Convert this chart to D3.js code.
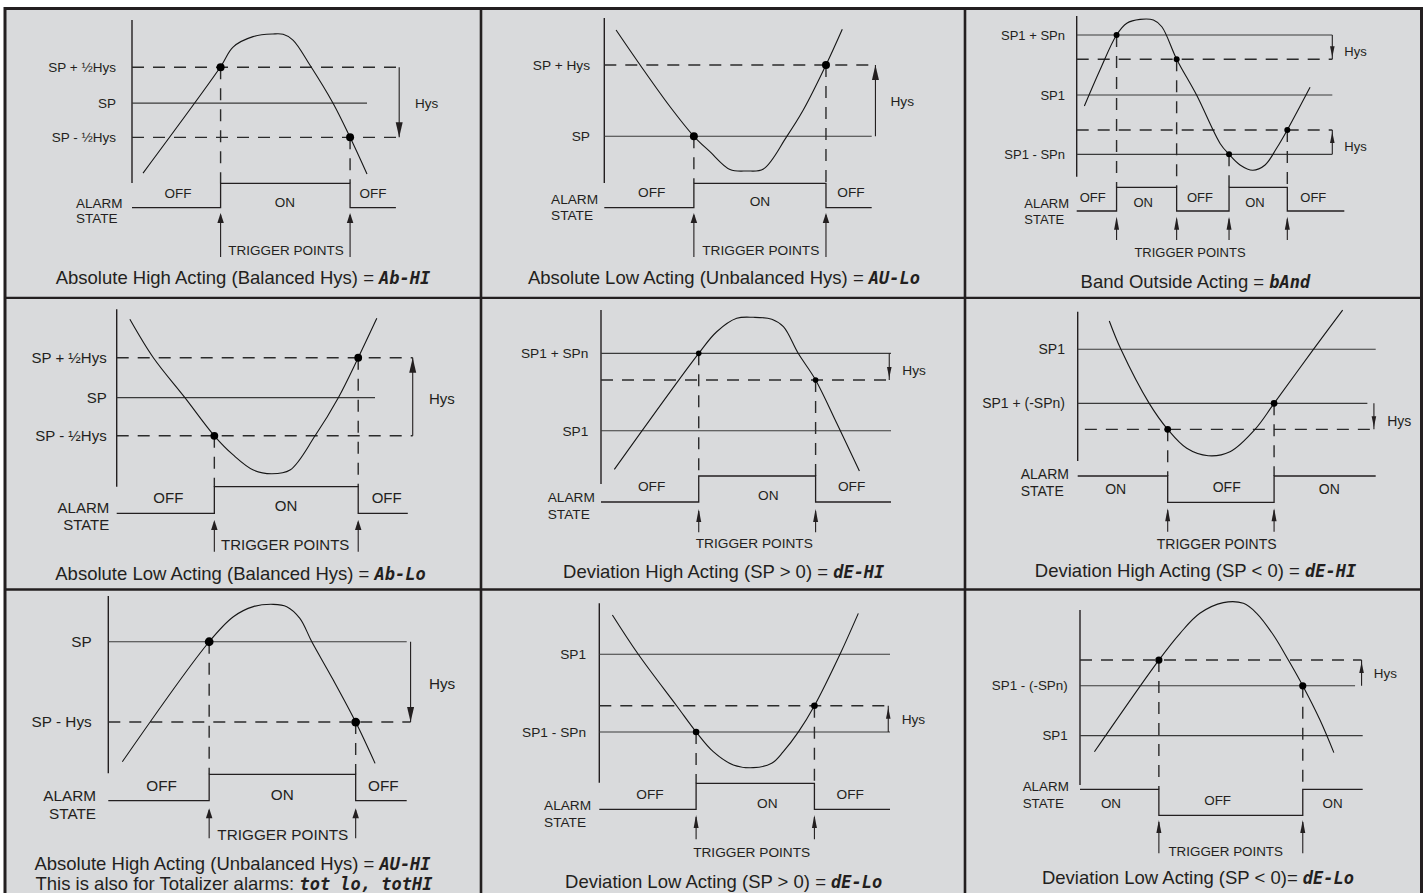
<!DOCTYPE html>
<html>
<head>
<meta charset="utf-8">
<script src="https://cdn.jsdelivr.net/npm/d3@7"></script>
<style>
  body { margin: 0; background: #fff; }
  svg { display: block; }
</style>
</head>
<body>
<script>
const ink = "#231f20";
const panelFill = "#d9dadc";

// ---- data (time runs 0..100 along each trace, process value 0..100 up the axis) ----
const captionText = [
  ["Absolute High Acting (Balanced Hys) = "],
  ["Absolute Low Acting (Unbalanced Hys) = "],
  ["Band Outside Acting = "],
  ["Absolute Low Acting (Balanced Hys) = "],
  ["Deviation High Acting (SP > 0) = "],
  ["Deviation High Acting (SP < 0) = "],
  ["Absolute High Acting (Unbalanced Hys) = ", "This is also for Totalizer alarms: "],
  ["Deviation Low Acting (SP > 0) = "],
  ["Deviation Low Acting (SP < 0)= "]
];
const captionCode = [
  ["Ab-HI"], ["AU-Lo"], ["bAnd"], ["Ab-Lo"], ["dE-HI"], ["dE-HI"],
  ["AU-HI", "tot lo, totHI"], ["dE-Lo"], ["dE-Lo"]
];

const levelNames = [
  ["SP + ½Hys", "SP", "SP - ½Hys"],
  ["SP + Hys", "SP"],
  ["SP1 + SPn", "", "SP1", "", "SP1 - SPn"],
  ["SP + ½Hys", "SP", "SP - ½Hys"],
  ["SP1 + SPn", "", "SP1"],
  ["SP1", "SP1 + (-SPn)", ""],
  ["SP", "SP - Hys"],
  ["SP1", "", "SP1 - SPn"],
  ["", "SP1 - (-SPn)", "SP1"]
];
const levelValues = [
  [71, 49, 28],
  [71.5, 28.3],
  [88.2, 73.1, 50.8, 29.1, 13.9],
  [72.7, 50.2, 28.7],
  [75.1, 59.8, 30.6],
  [74.8, 38.6, 21.2],
  [74.2, 28.9],
  [71.6, 42.9, 28.3],
  [71.4, 56.7, 28.2]
];
const levelDashed = [
  [1, 0, 1], [1, 0], [0, 1, 0, 1, 0], [1, 0, 1], [0, 1, 0],
  [0, 0, 1], [0, 1], [0, 1, 0], [1, 0, 0]
];
// time extent of each threshold line
const levelSpan = [
  [[0, 113.7], [0, 100], [0, 113.7]],
  [[0, 101.4], [0, 100]],
  [[0, 100], [0, 100], [0, 100], [0, 100], [0, 100]],
  [[0, 114.6], [0, 100], [0, 114.6]],
  [[0, 100], [0, 99.4], [0, 100]],
  [[0, 100], [0, 97.2], [2.4, 99.4]],
  [[0, 100], [0, 101.3]],
  [[0, 100], [0, 99.4], [0, 100]],
  [[0, 99.6], [0, 97.3], [0, 100]]
];

// hysteresis band: where the arrow stands and which levels it joins (from -> to)
const hysT = [113.7, 101.4, 100, 114.6, 99.4, 99.4, 101.3, 99.4, 99.6];
const hysPairs = [
  [[71, 28]],
  [[28.3, 71.5]],
  [[88.2, 73.1], [13.9, 29.1]],
  [[28.7, 72.7]],
  [[75.1, 59.8]],
  [[38.6, 21.2]],
  [[74.2, 28.9]],
  [[28.3, 42.9]],
  [[56.7, 71.4]]
];

const curveT = [
  [4.7, 37.7, 43.0, 51.5, 60.0, 64.3, 68.5, 75.7, 85.5, 92.8, 100],
  [4.4, 13.4, 24.6, 33.5, 39.5, 47.0, 53.3, 59.5, 68.2, 74.4, 82.9, 89.0],
  [3.0, 9.1, 15.6, 19.6, 24.8, 30.0, 33.3, 39.1, 46.9, 56.1, 59.6, 63.9, 68.9, 73.7, 78.2, 82.4, 91.3],
  [5.1, 14.2, 26.4, 37.8, 45.1, 52.9, 60.0, 67.1, 76.8, 85.8, 93.5, 100.7],
  [4.6, 33.7, 39.9, 46.8, 52.5, 58.9, 62.9, 68.0, 74.0, 81.3, 89.1],
  [10.6, 14.5, 24.0, 30.2, 36.6, 43.8, 51.1, 59.5, 65.9, 79.1, 88.9],
  [4.7, 33.8, 41.9, 48.6, 55.3, 59.8, 64.2, 68.2, 75.4, 82.9, 89.4],
  [4.5, 13.4, 26.6, 33.3, 39.2, 46.1, 53.0, 59.3, 63.3, 68.5, 74.0, 82.8, 89.1],
  [5.1, 27.9, 35.4, 42.4, 50.7, 57.8, 62.5, 68.4, 73.7, 78.8, 84.9, 89.8]
];
const curveV = [
  [6.1, 71.3, 83.4, 89.8, 91.4, 91.2, 87.7, 72.4, 49.1, 28.0, 5.5],
  [92.7, 71.5, 46.2, 28.3, 19.0, 8.2, 7.3, 8.5, 28.1, 44.2, 71.5, 93.2],
  [44.0, 66.4, 88.2, 95.5, 97.9, 97.5, 93.3, 73.1, 50.8, 20.7, 13.9, 7.3, 4.0, 7.3, 17.7, 29.1, 55.6],
  [94.4, 72.7, 50.2, 28.7, 17.9, 9.4, 7.3, 9.4, 28.7, 50.2, 72.7, 94.9],
  [8.4, 75.1, 87.5, 95.2, 95.8, 94.7, 90.4, 75.1, 59.8, 34.9, 7.5],
  [93.8, 74.8, 38.6, 21.2, 8.5, 3.5, 6.2, 21.2, 38.6, 74.8, 101.1],
  [6.5, 74.2, 88.3, 94.0, 95.3, 94.0, 87.4, 74.2, 52.6, 28.9, 5.6],
  [93.5, 71.6, 42.9, 28.3, 17.3, 9.9, 8.4, 10.8, 17.3, 28.3, 42.9, 71.6, 94.4],
  [19.0, 71.4, 86.7, 98.1, 104.2, 103.8, 98.1, 85.7, 71.4, 56.7, 37.1, 18.5]
];

const triggerT = [
  [37.7, 92.8], [33.5, 82.9], [15.6, 39.1, 59.6, 82.4], [37.8, 93.5], [33.7, 74.0],
  [30.2, 65.9], [33.8, 82.9], [33.3, 74.0], [27.9, 78.8]
];
const triggerV = [
  [71, 28], [28.3, 71.5], [88.2, 73.1, 13.9, 29.1], [28.7, 72.7], [75.1, 59.8],
  [21.2, 38.6], [74.2, 28.9], [28.3, 42.9], [71.4, 56.7]
];
const alarmStates = [
  ["OFF", "ON", "OFF"], ["OFF", "ON", "OFF"], ["OFF", "ON", "OFF", "ON", "OFF"],
  ["OFF", "ON", "OFF"], ["OFF", "ON", "OFF"], ["ON", "OFF", "ON"],
  ["OFF", "ON", "OFF"], ["OFF", "ON", "OFF"], ["ON", "OFF", "ON"]
];
const alarmEndT = [112.3, 100, 104.7, 112.7, 100, 100, 100, 100, 100];

// ---- layout (pixels) ----
const layout = [
  {ax: 132, ae: 367, at: 20, ab: 183, hi: 183.3, lo: 207.7, fs: 13.5, style: "A", r: 4, lblX: 116,
   alarm: ["start", 76, 203, 218], tipY: 213, baseY: 257, tp: [285.9, 250], cap: [[243, 278]],
   hysLbl: [15.7, 1], stDy: [9.7, 18.7], stDx: [1.6, -0.4, 0]},
  {ax: 604.3, ae: 871.7, at: 18, ab: 183, hi: 183.3, lo: 207.7, fs: 13.7, style: "A", r: 4, lblX: 590,
   alarm: ["start", 551, 199, 215], tipY: 213, baseY: 257, tp: [760.8, 250], cap: [[724, 278]],
   hysLbl: [15, 0.3], stDy: [9.4, 17.7], stDx: [2.7, 0, 2.1]},
  {ax: 1076.7, ae: 1332.3, at: 16, ab: 176.7, hi: 187.3, lo: 211, fs: 13, style: "B", r: 3, lblX: 1065,
   alarm: ["start", 1024.3, 203.3, 219.3], tipY: 216.7, baseY: 240, tp: [1190, 252.3], cap: [[1195.4, 281.7]],
   hysLbl: [12, 4], stDy: [10, 15], stDx: [-4, -3.4, -2.9, -3.2, -2.5]},
  {ax: 116.7, ae: 375, at: 309.3, ab: 486.7, hi: 486.7, lo: 513.3, fs: 15, style: "A", r: 3.9, lblX: 106.7,
   alarm: ["end", 109.3, 507.7, 524.3], tipY: 520, baseY: 551.7, tp: [285.2, 545], cap: [[240.5, 574]],
   hysLbl: [16.3, 1.6], stDy: [10.6, 19.3], stDx: [2.8, -0.3, 3.7]},
  {ax: 601, ae: 891, at: 310, ab: 484, hi: 476, lo: 502, fs: 13.7, style: "B", r: 2.8, lblX: 588.3,
   alarm: ["start", 547.7, 497.3, 514], tipY: 509, baseY: 532.3, tp: [754.3, 543.3], cap: [[723.7, 571.7]],
   hysLbl: [13, 4], stDy: [10.7, 19.7], stDx: [1.8, 11.1, -1.7]},
  {ax: 1077.7, ae: 1375.7, at: 311.7, ab: 461, hi: 476, lo: 502.3, fs: 14, style: "B", r: 3.4, lblX: 1065,
   alarm: ["start", 1020.7, 474, 491], tipY: 508.3, baseY: 531.7, tp: [1216.7, 544], cap: [[1195.5, 570.7]],
   hysLbl: [13.3, 4.4], stDy: [10.7, 13], stDx: [-7, 5.8, 4.4]},
  {ax: 108.3, ae: 406.7, at: 596, ab: 773.3, hi: 774.3, lo: 800.7, fs: 15.3, style: "A", r: 4.4, lblX: 91.7,
   alarm: ["end", 96, 795.7, 814], tipY: 808.3, baseY: 838.3, tp: [282.8, 835], cap: [[232.5, 863.3], [234, 884]],
   hysLbl: [18.3, 1.4], stDy: [11.4, 20.7], stDx: [2.9, -0.2, 2.1]},
  {ax: 599.3, ae: 890, at: 603.3, ab: 782.7, hi: 783.3, lo: 809.3, fs: 13.7, style: "B", r: 3.3, lblX: 586,
   alarm: ["start", 544, 805, 822.3], tipY: 815, baseY: 839.3, tp: [751.7, 852.3], cap: [[723.7, 881.7]],
   hysLbl: [13.4, 0.4], stDy: [11, 20], stDx: [2.3, 12.1, -2]},
  {ax: 1080, ae: 1362.7, at: 610, ab: 785, hi: 789.3, lo: 815.3, fs: 13.4, style: "B", r: 3.6, lblX: 1067.7,
   alarm: ["start", 1022.7, 786, 803.3], tipY: 820, baseY: 853.3, tp: [1225.7, 851], cap: [[1198, 877.3]],
   hysLbl: [12.3, 0.4], stDy: [11.4, 14], stDx: [-8.5, -13.2, -0.2]}
];

const svg = d3.select("body").append("svg")
    .attr("width", 1426)
    .attr("height", 893)
    .attr("font-family", "'Liberation Sans', Arial, sans-serif");

svg.append("rect").attr("width", 1426).attr("height", 893).attr("fill", "#fff");

// frame and grid
svg.append("rect")
    .attr("x", 5).attr("y", 8.5)
    .attr("width", 1416.5).attr("height", 900)
    .attr("fill", panelFill)
    .attr("stroke", ink)
    .attr("stroke-width", 3);
[481, 965].forEach(function(cx) {
  svg.append("line").attr("x1", cx).attr("x2", cx).attr("y1", 8.5).attr("y2", 893)
      .attr("stroke", ink).attr("stroke-width", 2.6);
});
[297.8, 589.5].forEach(function(cy) {
  svg.append("line").attr("x1", 5).attr("x2", 1421.5).attr("y1", cy).attr("y2", cy)
      .attr("stroke", ink).attr("stroke-width", 2.3);
});

// filled arrowhead, tip at (x, tipY); dir -1 = pointing up, +1 = pointing down
function arrowHead(x, tipY, dir, len, w) {
  const p = d3.path();
  p.moveTo(x, tipY);
  p.lineTo(x - w / 2, tipY - dir * len);
  p.lineTo(x + w / 2, tipY - dir * len);
  p.closePath();
  return p.toString();
}

function drawPanel(i) {
  const L = layout[i];
  const x = d3.scaleLinear().domain([0, 100]).range([L.ax, L.ae]);
  const y = d3.scaleLinear().domain([0, 100]).range([L.ab, L.at]);
  const st = d3.scaleOrdinal().domain(["OFF", "ON"]).range([L.lo, L.hi]);
  const dash = "12,9";
  const headHys = L.style === "A" ? [15, 7] : [11, 4.6];
  const headTrig = L.style === "A" ? [10, 6.5] : [13, 5];

  const g = svg.append("g")
      .attr("font-size", L.fs)
      .attr("fill", ink);

  // vertical axis
  g.append("line")
      .attr("x1", x(0)).attr("x2", x(0))
      .attr("y1", y(0)).attr("y2", y(100))
      .attr("stroke", ink).attr("stroke-width", 1.4);

  // setpoint / threshold lines
  levelValues[i].forEach(function(v, k) {
    const span = levelSpan[i][k];
    g.append("line")
        .attr("x1", x(span[0])).attr("x2", x(span[1]))
        .attr("y1", y(v)).attr("y2", y(v))
        .attr("stroke", levelDashed[i][k] ? "#2b2b2b" : "#3a3a3a")
        .attr("stroke-width", levelDashed[i][k] ? 1.4 : 1.1)
        .attr("stroke-dasharray", levelDashed[i][k] ? dash : null);
    if (levelNames[i][k]) {
      g.append("text")
          .attr("x", L.lblX).attr("y", y(v))
          .attr("dy", "0.35em")
          .attr("text-anchor", "end")
          .text(levelNames[i][k]);
    }
  });

  // process value trace
  const line = d3.line()
      .x(d => x(d[0]))
      .y(d => y(d[1]))
      .curve(d3.curveCatmullRom.alpha(0.5));
  g.append("path")
      .attr("d", line(d3.zip(curveT[i], curveV[i])))
      .attr("fill", "none")
      .attr("stroke", "#151515")
      .attr("stroke-width", 1.1);

  // hysteresis arrows
  hysPairs[i].forEach(function(pair) {
    const xh = x(hysT[i]);
    const y0 = y(pair[0]);
    const y1 = y(pair[1]);
    const dir = y1 > y0 ? 1 : -1;
    g.append("line")
        .attr("x1", xh).attr("x2", xh)
        .attr("y1", y0).attr("y2", y1)
        .attr("stroke", ink).attr("stroke-width", 1.1);
    g.append("path")
        .attr("d", arrowHead(xh, y1 - dir * (L.style === "A" ? 0 : 2), dir, headHys[0], headHys[1]))
        .attr("fill", ink);
    g.append("text")
        .attr("x", xh + L.hysLbl[0])
        .attr("y", (y0 + y1) / 2 + L.hysLbl[1])
        .attr("dy", "0.35em")
        .text("Hys");
  });

  // trigger points: dashed drop lines, dots, arrows
  triggerT[i].forEach(function(t, k) {
    const tx = x(t);
    const ty = y(triggerV[i][k]);
    g.append("line")
        .attr("x1", tx).attr("x2", tx)
        .attr("y1", ty).attr("y2", L.hi)
        .attr("stroke", "#2b2b2b").attr("stroke-width", 1.4)
        .attr("stroke-dasharray", dash);
    g.append("circle")
        .attr("cx", tx).attr("cy", ty).attr("r", L.r)
        .attr("fill", "#000");
    g.append("line")
        .attr("x1", tx).attr("x2", tx)
        .attr("y1", L.baseY).attr("y2", L.tipY + 2)
        .attr("stroke", ink).attr("stroke-width", 1.1);
    g.append("path")
        .attr("d", arrowHead(tx, L.tipY, -1, headTrig[0], headTrig[1]))
        .attr("fill", ink);
  });

  // alarm state trace
  const states = alarmStates[i];
  const edges = [0].concat(triggerT[i], [alarmEndT[i]]);
  const pts = states.map((s, k) => [edges[k], s]).concat([[alarmEndT[i], states[states.length - 1]]]);
  const step = d3.line()
      .x(d => x(d[0]))
      .y(d => st(d[1]))
      .curve(d3.curveStepAfter);
  g.append("path")
      .attr("d", step(pts))
      .attr("fill", "none")
      .attr("stroke", ink)
      .attr("stroke-width", 1.3);

  states.forEach(function(s, k) {
    const cx = (x(edges[k]) + x(edges[k + 1])) / 2 + L.stDx[k];
    const dy = st(s) === L.hi ? L.stDy[1] : L.stDy[0];
    g.append("text")
        .attr("x", cx).attr("y", L.hi + dy)
        .attr("dy", "0.35em")
        .attr("text-anchor", "middle")
        .text(s);
  });

  const a = L.alarm;
  ["ALARM", "STATE"].forEach(function(w, k) {
    g.append("text")
        .attr("x", a[1]).attr("y", a[2 + k])
        .attr("dy", "0.35em")
        .attr("text-anchor", a[0])
        .text(w);
  });

  g.append("text")
      .attr("x", L.tp[0]).attr("y", L.tp[1])
      .attr("dy", "0.35em")
      .attr("text-anchor", "middle")
      .text("TRIGGER POINTS");

  // caption lines with the display mnemonic
  L.cap.forEach(function(c, k) {
    const cap = g.append("text")
        .attr("x", c[0]).attr("y", c[1])
        .attr("dy", "0.35em")
        .attr("text-anchor", "middle")
        .attr("font-size", 18.5)
        .style("white-space", "pre");
    cap.append("tspan").text(captionText[i][k]);
    cap.append("tspan")
        .attr("font-family", "'DejaVu Sans Mono', monospace")
        .attr("font-weight", "bold")
        .attr("font-style", "italic")
        .attr("font-size", 17)
        .text(captionCode[i][k]);
  });
}

layout.forEach((d, i) => drawPanel(i));
</script>
</body>
</html>
